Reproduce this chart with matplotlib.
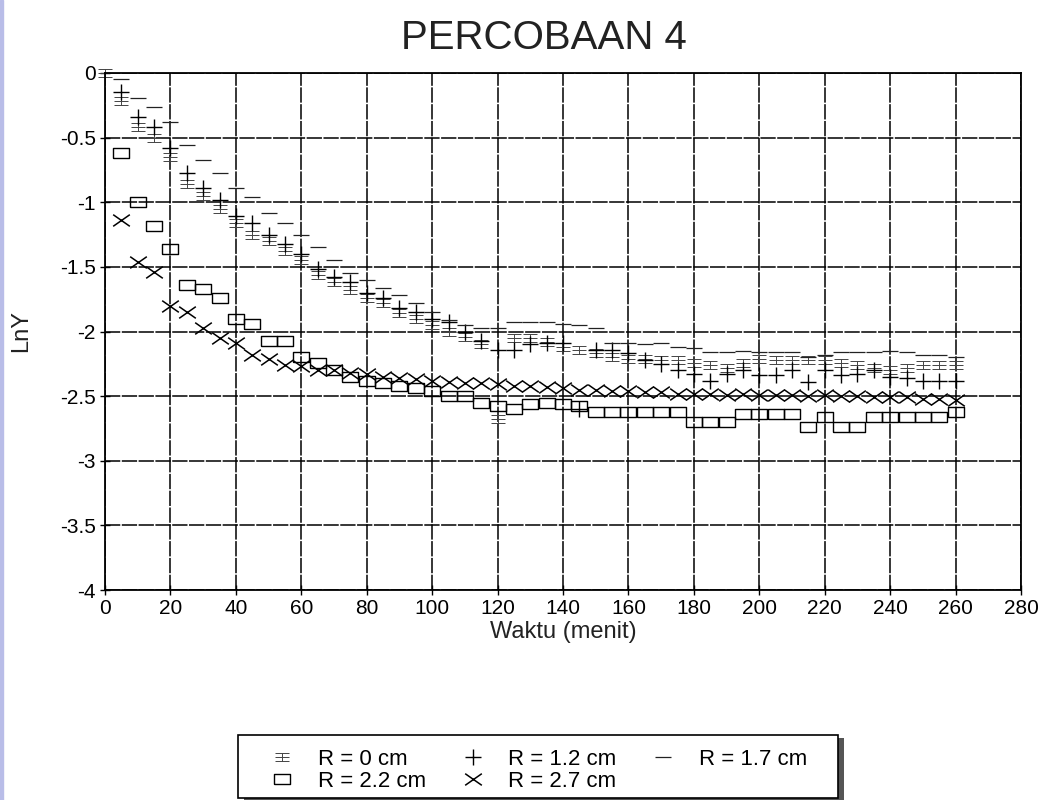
import numpy as np
import matplotlib
matplotlib.use("Agg")
import matplotlib.pyplot as plt
from matplotlib.path import Path
from matplotlib.patches import Rectangle

plt.rcParams['font.family'] = ['Liberation Sans', 'DejaVu Sans']

# waktu (menit), titik tiap 5 menit
t = list(range(5, 265, 5))

# R = 0 cm  (mulai dari t = 0)
t_r0 = [0] + t
y_r0 = [0.0,
        -0.22, -0.42, -0.50, -0.65, -0.86, -0.95, -1.05, -1.16, -1.25, -1.30,
        -1.38, -1.45, -1.56, -1.62, -1.68, -1.74, -1.78, -1.86, -1.90, -1.95,
        -2.00, -2.04, -2.10, -2.68, -2.05, -2.05, -2.08, -2.12, -2.14, -2.17,
        -2.20, -2.21, -2.21, -2.22, -2.22, -2.24, -2.26, -2.28, -2.24, -2.21,
        -2.22, -2.22, -2.22, -2.22, -2.24, -2.26, -2.28, -2.30, -2.28, -2.26,
        -2.26, -2.26]

# R = 1.2 cm
y_r12 = [-0.15, -0.34, -0.42, -0.58, -0.77, -0.89, -0.98, -1.11, -1.16, -1.25,
         -1.32, -1.40, -1.52, -1.58, -1.62, -1.70, -1.74, -1.82, -1.85, -1.90,
         -1.93, -2.00, -2.07, -2.14, -2.14, -2.10, -2.09, -2.09, -2.60, -2.14,
         -2.14, -2.17, -2.22, -2.25, -2.30, -2.33, -2.38, -2.33, -2.30, -2.34,
         -2.34, -2.30, -2.39, -2.30, -2.34, -2.33, -2.30, -2.35, -2.36, -2.38,
         -2.38, -2.38]

# R = 1.7 cm
y_r17 = [-0.05, -0.19, -0.26, -0.38, -0.56, -0.67, -0.77, -0.89, -0.96, -1.08,
         -1.16, -1.25, -1.35, -1.45, -1.55, -1.60, -1.66, -1.72, -1.78, -1.85,
         -1.91, -1.95, -1.97, -1.97, -1.93, -1.93, -1.93, -1.94, -1.95, -1.97,
         -2.09, -2.09, -2.10, -2.09, -2.12, -2.13, -2.16, -2.16, -2.15, -2.16,
         -2.16, -2.16, -2.20, -2.18, -2.16, -2.16, -2.16, -2.15, -2.16, -2.18,
         -2.18, -2.20]

# R = 2.2 cm
y_r22 = [-0.62, -1.00, -1.18, -1.36, -1.64, -1.67, -1.74, -1.90, -1.94, -2.07,
         -2.07, -2.20, -2.24, -2.30, -2.35, -2.38, -2.40, -2.42, -2.44, -2.46,
         -2.50, -2.50, -2.55, -2.58, -2.60, -2.56, -2.55, -2.56, -2.58, -2.62,
         -2.62, -2.62, -2.62, -2.62, -2.62, -2.70, -2.70, -2.70, -2.64, -2.64,
         -2.64, -2.64, -2.74, -2.66, -2.74, -2.74, -2.66, -2.66, -2.66, -2.66,
         -2.66, -2.62]

# R = 2.7 cm
y_r27 = [-1.14, -1.46, -1.54, -1.80, -1.85, -1.97, -2.05, -2.09, -2.18, -2.21,
         -2.26, -2.27, -2.30, -2.30, -2.32, -2.33, -2.35, -2.36, -2.37, -2.38,
         -2.39, -2.40, -2.40, -2.41, -2.42, -2.42, -2.43, -2.44, -2.45, -2.45,
         -2.46, -2.46, -2.47, -2.47, -2.48, -2.48, -2.48, -2.49, -2.48, -2.49,
         -2.49, -2.49, -2.50, -2.49, -2.50, -2.50, -2.51, -2.51, -2.51, -2.52,
         -2.52, -2.53]

xticks = list(range(0, 300, 20))
yticks = [0, -0.5, -1, -1.5, -2, -2.5, -3, -3.5, -4]
ylabels = ['0', '-0.5', '-1', '-1.5', '-2', '-2.5', '-3', '-3.5', '-4']

# penanda buatan sendiri
M, L = Path.MOVETO, Path.LINETO
mk_r0 = Path([(-1, 0.6), (1, 0.6), (-1, 0), (1, 0), (-1, -0.6), (1, -0.6),
              (0, -0.6), (0, 0.6)], [M, L, M, L, M, L, M, L])
mk_dash = Path([(-1, 0), (1, 0), (0, 0.02), (0, -0.02)], [M, L, M, L])
mk_box = Path([(-1, -0.6), (1, -0.6), (1, 0.6), (-1, 0.6), (-1, -0.6)],
              [M, L, L, L, L])
mk_x = Path([(-1, -0.7), (1, 0.7), (-1, 0.7), (1, -0.7)], [M, L, M, L])

fig = plt.figure(figsize=(10.5, 8), dpi=100)
ax = fig.add_axes([105/1050, 1-590/800, (1021-105)/1050, (590-73)/800])

kw = dict(linestyle='none', markerfacecolor='none', clip_on=False)
h0, = ax.plot(t_r0, y_r0, marker=mk_r0, markersize=10, markeredgewidth=0.7,
              markeredgecolor='#444444', label='R = 0 cm', **kw)
h12, = ax.plot(t, y_r12, marker='+', markersize=11, markeredgewidth=1.0,
               markeredgecolor='black', label='R = 1.2 cm', **kw)
h17, = ax.plot(t, y_r17, marker=mk_dash, markersize=12, markeredgewidth=0.9,
               markeredgecolor='#222222', label='R = 1.7 cm', **kw)
h22, = ax.plot(t, y_r22, marker=mk_box, markersize=12, markeredgewidth=1.0,
               markeredgecolor='black', label='R = 2.2 cm', **kw)
h27, = ax.plot(t, y_r27, marker=mk_x, markersize=12, markeredgewidth=1.1,
               markeredgecolor='black', label='R = 2.7 cm', **kw)

ax.set_xlim(0, 280)
ax.set_ylim(-4, 0)
ax.set_xticks(xticks)
ax.set_xticklabels([str(v) for v in xticks])
ax.set_yticks(yticks)
ax.set_yticklabels(ylabels)
ax.tick_params(direction='inout', length=7, width=1, labelsize=15, pad=3,
               colors='black')
ax.grid(True, color='black', linewidth=1.1, linestyle=(0, (10, 1)))
ax.set_axisbelow(True)
for s in ax.spines.values():
    s.set_linewidth(1.3)

ax.set_xlabel('Waktu (menit)', fontsize=17, labelpad=2, color='#222222')
ax.set_ylabel('LnY', fontsize=17, labelpad=20, color='#222222')
fig.text(0.518, 0.953, 'PERCOBAAN 4', ha='center', va='center', fontsize=29,
         color='#222222')

# kotak legenda dengan bayangan tebal di kanan
fig.patches.append(Rectangle((244/1050, 1-801/800), 600/1050, 63/800,
                             transform=fig.transFigure, facecolor='#555555',
                             edgecolor='none', zorder=1))
fig.patches.append(Rectangle((238/1050, 1-798/800), 600/1050, 63/800,
                             transform=fig.transFigure, facecolor='white',
                             edgecolor='black', linewidth=1.2, zorder=2))

handles = [h0, h22, h12, h27, h17]
leg = fig.legend(handles=handles, labels=[h.get_label() for h in handles],
                 ncol=3, loc='upper left', bbox_to_anchor=(260/1050, 1-738/800),
                 fontsize=16, frameon=False, handlelength=1.0,
                 handletextpad=1.1, columnspacing=1.6, borderpad=0,
                 labelspacing=0.05)
leg.set_zorder(3)

# garis tepi hasil scan di kiri
fig.patches.append(Rectangle((0, 0), 3/1050, 1, transform=fig.transFigure,
                             color='#b9bde8', zorder=0))

fig.savefig('out.png', dpi=100)
